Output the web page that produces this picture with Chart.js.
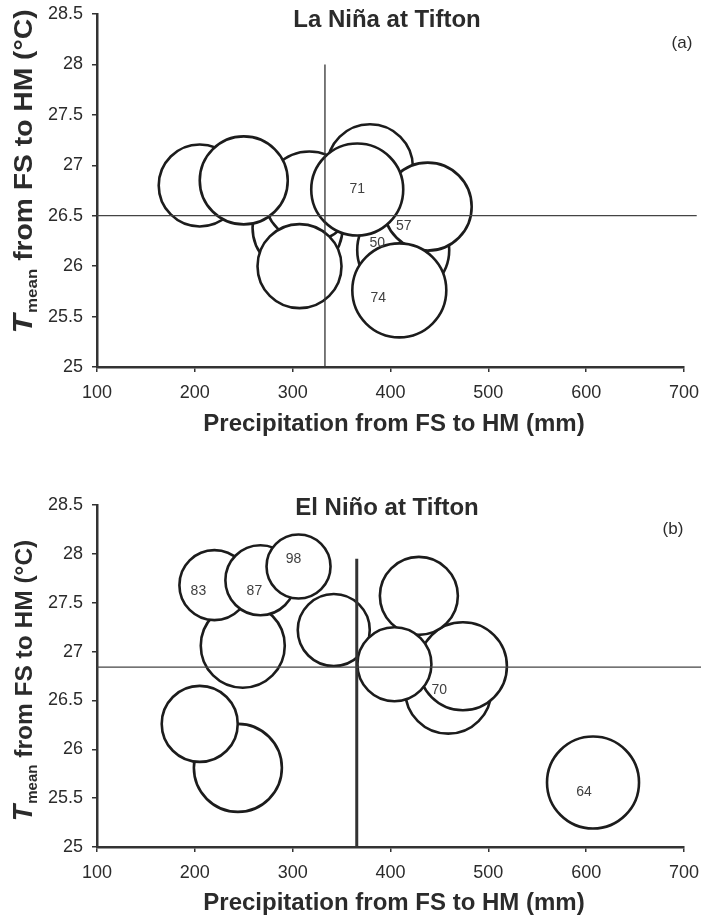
<!DOCTYPE html>
<html>
<head>
<meta charset="utf-8">
<script src="https://cdn.jsdelivr.net/npm/chart.js@4.4.0/dist/chart.umd.min.js"></script>
<style>
  html, body { margin: 0; padding: 0; background: #fff; }
  canvas { display: block; }
</style>
</head>
<body>
<canvas id="ninaChart" width="701" height="459"></canvas>
<canvas id="ninoChart" width="701" height="459"></canvas>
<script>
// ---- Data ----
const xTicks = [100, 200, 300, 400, 500, 600, 700];
const yTicks = [25, 25.5, 26, 26.5, 27, 27.5, 28, 28.5];

// La Nina seasons (listed back to front)
const ninaPrecip = [305, 317, 205, 250, 307, 379, 413, 438, 366, 409];
const ninaTemp   = [26.38, 26.69, 26.80, 26.85, 26.00, 26.98, 26.16, 26.59, 26.76, 25.76];
const ninaSize   = [45, 45, 41, 44, 42, 43, 46, 44, 46, 47];
const ninaLabels = ['', '', '', '', '', '', '50', '57', '71', '74'];
const ninaMeanPrecip = 333;
const ninaMeanTemp = 26.5;

// El Nino seasons (listed back to front)
const ninoPrecip = [249, 220, 267, 306, 342, 459, 474, 429, 404, 244, 205, 607];
const ninoTemp   = [27.06, 27.68, 27.73, 27.87, 27.22, 26.60, 26.85, 27.57, 26.87, 25.81, 26.26, 25.66];
const ninoSize   = [42, 35, 35, 32, 36, 43, 44, 39, 37, 44, 38, 46];
const ninoLabels = ['', '83', '87', '98', '', '70', '', '', '', '', '', '64'];
const ninoMeanPrecip = 365.5;
const ninoMeanTemp = 26.84;

// ---- Styling helpers ----
const FONT = "'Liberation Sans', Arial, Helvetica, sans-serif";
const INK = '#2b2b2b';

// label nudges (px) so text sits where the original put it
const ninaNudge = [[0,0],[0,0],[0,0],[0,0],[0,0],[0,0],[-26,-7],[-24,20],[0,0],[-21,8]];
const ninoNudge = [[0,0],[-16,6],[-6,11],[-5,-7],[0,0],[-9,-1],[0,0],[0,0],[0,0],[0,0],[0,0],[-9,10]];

const annotate = {
  id: 'annotate',
  afterDatasetsDraw(chart, args, o) {
    const ctx = chart.ctx;
    ctx.save();

    // bubble labels
    const meta = chart.getDatasetMeta(0);
    ctx.fillStyle = '#404040';
    ctx.font = '14px ' + FONT;
    ctx.textAlign = 'center';
    ctx.textBaseline = 'middle';
    meta.data.forEach((pt, i) => {
      const txt = o.labels[i];
      if (!txt) return;
      const n = o.nudge[i] || [0, 0];
      ctx.fillText(txt, pt.x + n[0], pt.y + n[1]);
    });

    // chart title
    ctx.fillStyle = INK;
    ctx.font = 'bold 24px ' + FONT;
    ctx.fillText(o.title, 387, o.titleY);

    // panel letter
    ctx.font = '17px ' + FONT;
    ctx.fillText(o.panel, o.panelX, o.panelY);

    // x axis title
    ctx.font = 'bold 24px ' + FONT;
    ctx.fillText('Precipitation from FS to HM (mm)', 394, o.xTitleY);

    // y axis title: T_mean from FS to HM (°C)
    const f = o.yFont;
    ctx.translate(23, o.yTitleY);
    ctx.rotate(-Math.PI / 2);
    ctx.scale(o.yStretch, 1);
    const big = 'bold ' + f + 'px ' + FONT;
    const bigIt = 'italic bold ' + Math.round(f * 1.1) + 'px ' + FONT;
    const sub = 'bold ' + Math.round(f * 0.6) + 'px ' + FONT;
    const rest = ' from FS to HM (\u00B0C)';
    ctx.font = bigIt; const wT = ctx.measureText('T').width;
    ctx.font = sub; const wS = ctx.measureText('mean').width;
    ctx.font = big; const wR = ctx.measureText(rest).width;
    let x0 = -(wT + wS + wR) / 2;
    const base = f * 0.36;
    ctx.textAlign = 'left';
    ctx.textBaseline = 'alphabetic';
    ctx.font = bigIt; ctx.fillText('T', x0, base); x0 += wT + 1;
    ctx.font = sub; ctx.fillText('mean', x0, base + f * 0.2); x0 += wS;
    ctx.font = big; ctx.fillText(rest, x0, base);
    ctx.restore();
  }
};

function makeChart(id, cfg) {
  const bubbles = cfg.precip.map((p, i) => ({ x: p, y: cfg.temp[i], r: cfg.size[i] }));
  return new Chart(document.getElementById(id), {
    type: 'bubble',
    data: {
      datasets: [
        {
          data: bubbles,
          backgroundColor: '#ffffff',
          borderColor: '#1c1c1c',
          borderWidth: 2.6,
          hoverRadius: 0,
          order: 2
        },
        {
          type: 'scatter',
          data: [{ x: cfg.meanPrecip, y: 25 }, { x: cfg.meanPrecip, y: cfg.vTop }],
          showLine: true,
          borderColor: '#333',
          borderWidth: cfg.vWidth,
          pointRadius: 0,
          clip: false,
          order: 1
        },
        {
          type: 'scatter',
          data: [{ x: 100, y: cfg.meanTemp }, { x: cfg.hEnd, y: cfg.meanTemp }],
          showLine: true,
          borderColor: '#444',
          borderWidth: 1.3,
          pointRadius: 0,
          clip: false,
          order: 0
        }
      ]
    },
    options: {
      responsive: false,
      animation: false,
      events: [],
      layout: { autoPadding: false, padding: { left: 0, top: cfg.top, right: 17, bottom: 0 } },
      plugins: {
        legend: { display: false },
        tooltip: { enabled: false },
        annotate: {
          labels: cfg.labels, nudge: cfg.nudge,
          title: cfg.title, titleY: cfg.titleY,
          panel: cfg.panel, panelX: cfg.panelX, panelY: cfg.panelY,
          xTitleY: cfg.xTitleY, yTitleY: cfg.yTitleY,
          yFont: cfg.yFont, yStretch: cfg.yStretch
        }
      },
      scales: {
        x: {
          type: 'linear', min: 100, max: 700,
          afterBuildTicks: s => { s.ticks = xTicks.map(v => ({ value: v })); },
          afterFit: s => { s.height = cfg.xAxisH; s.paddingLeft = 0; s.paddingRight = 0; },
          ticks: { color: INK, font: { family: FONT, size: 18 }, padding: 10, maxRotation: 0 },
          grid: { drawOnChartArea: false, tickLength: 5, color: '#333', lineWidth: 1.5 },
          border: { color: '#333', width: 2.5 }
        },
        y: {
          type: 'linear', min: 25, max: 28.5,
          afterBuildTicks: s => { s.ticks = yTicks.map(v => ({ value: v })); },
          afterFit: s => { s.width = 97; s.paddingTop = 0; s.paddingBottom = 0; },
          ticks: { color: INK, font: { family: FONT, size: 18 }, padding: 9, callback: v => String(v) },
          grid: { drawOnChartArea: false, tickLength: 5, color: '#333', lineWidth: 1.5 },
          border: { color: '#333', width: 2.5 }
        }
      }
    },
    plugins: [annotate]
  });
}

makeChart('ninaChart', {
  precip: ninaPrecip, temp: ninaTemp, size: ninaSize, labels: ninaLabels, nudge: ninaNudge,
  meanPrecip: ninaMeanPrecip, meanTemp: ninaMeanTemp, vTop: 28, vWidth: 1.3, hEnd: 713,
  top: 14, xAxisH: 92,
  title: 'La Ni\u00F1a at Tifton', titleY: 20,
  panel: '(a)', panelX: 682, panelY: 43,
  xTitleY: 424, yTitleY: 172, yFont: 25, yStretch: 1.13
});

makeChart('ninoChart', {
  precip: ninoPrecip, temp: ninoTemp, size: ninoSize, labels: ninoLabels, nudge: ninoNudge,
  meanPrecip: ninoMeanPrecip, meanTemp: ninoMeanTemp, vTop: 27.95, vWidth: 3, hEnd: 718,
  top: 46, xAxisH: 71,
  title: 'El Ni\u00F1o at Tifton', titleY: 49,
  panel: '(b)', panelX: 673, panelY: 70,
  xTitleY: 444, yTitleY: 222, yFont: 24.5, yStretch: 1
});
</script>
</body>
</html>
